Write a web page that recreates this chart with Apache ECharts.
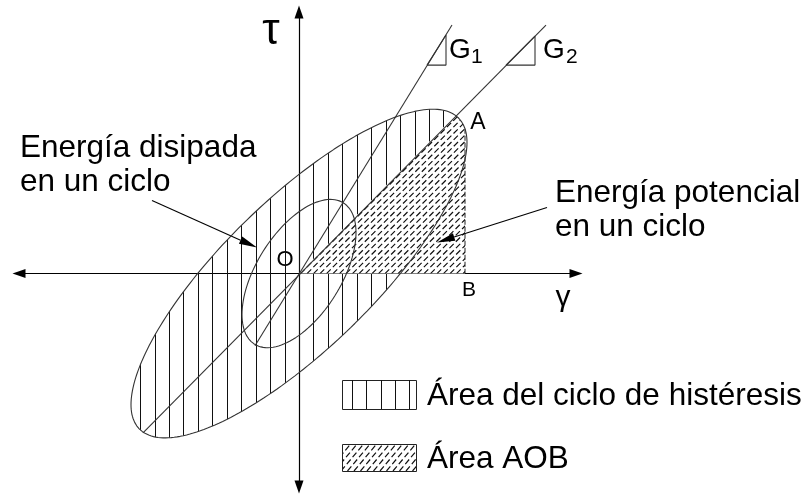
<!DOCTYPE html>
<html>
<head>
<meta charset="utf-8">
<script src="https://cdn.jsdelivr.net/npm/echarts@6/dist/echarts.min.js"></script>
<style>
html, body { margin: 0; padding: 0; background: #fff; }
#main { width: 809px; height: 495px; }
</style>
</head>
<body>
<div id="main"></div>
<script>
let myChart = echarts.init(document.getElementById('main'), null, { renderer: 'canvas' });

// hysteresis loops [outer cycle, inner cycle], in sketch units (gamma, tau)
const gammaAmp = [168, 57];
const tauAmp = [164, 74];
const gammaAtPeakTau = [134, 31.5];

// secant lines G1, G2 and their slope triangles
const g1Ends = [[-44, -72], [153, 248]];
const g2Ends = [[-156, -159], [247, 248]];
const g1Tri = [[128, 208], [147, 208], [147, 238], [128, 208]];
const g2Tri = [[207, 208], [236, 208], [236, 237], [207, 208]];

// point B on the gamma axis, spacing of the vertical hatch
const gammaB = 166;
const hatchStep = 14.44;

// annotation arrows [from, tip]
const arrowDisipada = [[-147, 73], [-42, 26]];
const arrowPotencial = [[248, 66], [138, 31]];

const FONT = '"Liberation Sans", Arial, sans-serif';

function loopPoints(i) {
  const d = Math.acos(gammaAtPeakTau[i] / gammaAmp[i]);
  const pts = [];
  for (let k = 0; k <= 240; k++) {
    const t = k / 240 * 2 * Math.PI;
    pts.push([gammaAmp[i] * Math.cos(t), tauAmp[i] * Math.cos(t - d)]);
  }
  return pts;
}
// upper branch of the outer loop at a given gamma
function upperTau(x) {
  const a = gammaAmp[0], b = tauAmp[0];
  const d = Math.acos(gammaAtPeakTau[0] / a);
  const u = Math.min(1, Math.abs(x / a));
  return b * ((x / a) * Math.cos(d) + Math.sqrt(1 - u * u) * Math.sin(d));
}
const outerLoop = loopPoints(0);
const innerLoop = loopPoints(1);
const g2Slope = (g2Ends[1][1] - g2Ends[0][1]) / (g2Ends[1][0] - g2Ends[0][0]);

// area AOB: under the G2 secant, left of B, under the outer loop
const aobShape = [[0, 0]];
for (let x = 0; x <= gammaB; x += 1) {
  aobShape.push([x, Math.min(x * g2Slope, upperTau(x))]);
}
aobShape.push([gammaB, 0]);

function seg(p, q, style) {
  return { type: 'line', shape: { x1: p[0], y1: p[1], x2: q[0], y2: q[1] }, style: style };
}

function arrow(api, ends) {
  const a = api.coord(ends[0]), b = api.coord(ends[1]);
  const dx = b[0] - a[0], dy = b[1] - a[1];
  const len = Math.sqrt(dx * dx + dy * dy);
  const ux = dx / len, uy = dy / len;
  const base = [b[0] - ux * 18, b[1] - uy * 18];
  return [
    seg(a, base, { stroke: '#000', lineWidth: 1.1 }),
    { type: 'polygon', shape: { points: [b, [base[0] - uy * 4, base[1] + ux * 4], [base[0] + uy * 4, base[1] - ux * 4]] }, style: { fill: '#000' } }
  ];
}

function dashedHatch(x0, x1, y0, step, ang) {
  const out = [];
  for (let x = x0; x <= x1; x += step) {
    out.push(seg([x, y0], [x + 400 * Math.cos(ang), y0 - 400 * Math.sin(ang)],
      { stroke: '#111', lineWidth: 1.2, lineDash: [6, 3] }));
  }
  return out;
}

let option = {
  animation: false,
  backgroundColor: '#fff',
  grid: { left: 19, right: 233, top: 12, bottom: 8 },
  xAxis: {
    type: 'value', min: -280, max: 277,
    axisLine: { onZero: true, symbol: ['triangle', 'triangle'], symbolSize: [9, 13], lineStyle: { color: '#000', width: 1.2 } },
    axisTick: { show: false }, axisLabel: { show: false }, splitLine: { show: false }
  },
  yAxis: {
    type: 'value', min: -213, max: 261,
    axisLine: { onZero: true, symbol: ['triangle', 'triangle'], symbolSize: [9, 13], lineStyle: { color: '#000', width: 1.2 } },
    axisTick: { show: false }, axisLabel: { show: false }, splitLine: { show: false }
  },
  series: [
    {
      name: 'Área del ciclo de histéresis',
      type: 'custom',
      coordinateSystem: 'cartesian2d',
      data: [[0, 0]],
      clip: false,
      silent: true,
      renderItem: function (params, api) {
        const lines = [];
        for (let k = -13; k <= 13; k++) {
          const p = api.coord([k * hatchStep, 0]);
          const x = Math.round(p[0]) + 0.5;
          lines.push(seg([x, 0], [x, 495], { stroke: '#111', lineWidth: 1 }));
        }
        return {
          type: 'group',
          clipPath: { type: 'polygon', shape: { points: outerLoop.map(p => api.coord(p)) } },
          children: lines
        };
      }
    },
    {
      name: 'Área AOB',
      type: 'custom',
      coordinateSystem: 'cartesian2d',
      data: [[0, 0]],
      clip: false,
      silent: true,
      renderItem: function (params, api) {
        const pts = aobShape.map(p => api.coord(p));
        const o = api.coord([0, 0]);
        const a = api.coord([gammaB, upperTau(gammaB)]);
        const b = api.coord([gammaB, 0]);
        return {
          type: 'group',
          children: [
            { type: 'polygon', shape: { points: pts }, style: { fill: '#fff' } },
            {
              type: 'group',
              clipPath: { type: 'polygon', shape: { points: pts } },
              children: dashedHatch(o[0] - 200, o[0] + 200, o[1], 6.5, 45 * Math.PI / 180)
            },
            seg(a, b, { stroke: '#222', lineWidth: 1, lineDash: [5, 2] })
          ]
        };
      }
    },
    {
      name: 'Ciclo', type: 'line', data: outerLoop, showSymbol: false, symbol: 'none',
      lineStyle: { color: '#333', width: 1.1 }, silent: true
    },
    {
      name: 'Ciclo pequeño', type: 'line', data: innerLoop, showSymbol: false, symbol: 'none',
      lineStyle: { color: '#333', width: 1.1 }, silent: true
    },
    {
      name: 'G1', type: 'line', data: g1Ends, showSymbol: false, symbol: 'none',
      lineStyle: { color: '#333', width: 1.1 }, silent: true
    },
    {
      name: 'G2', type: 'line', data: g2Ends, showSymbol: false, symbol: 'none',
      lineStyle: { color: '#333', width: 1.1 }, silent: true
    },
    {
      name: 'G1 pendiente', type: 'line', data: g1Tri, showSymbol: false, symbol: 'none',
      lineStyle: { color: '#333', width: 1.1 }, silent: true
    },
    {
      name: 'G2 pendiente', type: 'line', data: g2Tri, showSymbol: false, symbol: 'none',
      lineStyle: { color: '#333', width: 1.1 }, silent: true
    },
    {
      name: 'Flechas',
      type: 'custom',
      coordinateSystem: 'cartesian2d',
      data: [[0, 0]],
      clip: false,
      silent: true,
      renderItem: function (params, api) {
        return {
          type: 'group',
          children: arrow(api, arrowDisipada).concat(arrow(api, arrowPotencial))
        };
      }
    },
    {
      name: 'Leyenda',
      type: 'custom',
      coordinateSystem: 'cartesian2d',
      data: [[0, 0]],
      clip: false,
      silent: true,
      renderItem: function () {
        const r1 = [342, 380, 74, 29], r2 = [342, 444, 74, 27];
        const kids = [];
        kids.push({ type: 'rect', shape: { x: r1[0] + 0.5, y: r1[1] + 0.5, width: r1[2], height: r1[3] }, style: { fill: '#fff', stroke: '#222', lineWidth: 1 } });
        for (let k = 0; k < 5; k++) {
          const x = Math.round(r1[0] + 10 + k * 14.3) + 0.5;
          kids.push(seg([x, r1[1]], [x, r1[1] + r1[3]], { stroke: '#111', lineWidth: 1 }));
        }
        const rectPts = [[r2[0], r2[1]], [r2[0] + r2[2], r2[1]], [r2[0] + r2[2], r2[1] + r2[3]], [r2[0], r2[1] + r2[3]]];
        kids.push({ type: 'rect', shape: { x: r2[0] + 0.5, y: r2[1] + 0.5, width: r2[2], height: r2[3] }, style: { fill: '#fff', stroke: 'none' } });
        kids.push({
          type: 'group',
          clipPath: { type: 'polygon', shape: { points: rectPts } },
          children: dashedHatch(r2[0] - 40, r2[0] + r2[2], r2[1] + r2[3], 6.5, 50 * Math.PI / 180)
        });
        kids.push({ type: 'rect', shape: { x: r2[0] + 0.5, y: r2[1] + 0.5, width: r2[2], height: r2[3] }, style: { fill: 'none', stroke: '#222', lineWidth: 1 } });
        return { type: 'group', children: kids };
      }
    }
  ],
  graphic: [
    ['Energía disipada', 20, 148, 31.5, 'left'],
    ['en un ciclo', 20, 182, 31.5, 'left'],
    ['Energía potencial', 555, 193, 31.5, 'left'],
    ['en un ciclo', 555, 227, 31.5, 'left'],
    ['Área del ciclo de histéresis', 427, 396, 31.5, 'left'],
    ['Área AOB', 427, 459, 31.5, 'left'],
    ['O', 285, 260, 22, 'center'],
    ['A', 478, 123, 23, 'center'],
    ['B', 469, 290, 21, 'center'],
    ['G', 449, 50, 28, 'left'],
    ['1', 471, 57, 21, 'left'],
    ['G', 543, 50, 28, 'left'],
    ['2', 566, 57, 21, 'left'],
    ['τ', 271, 32, 44, 'center'],
    ['γ', 563, 298, 30, 'center']
  ].map(t => ({
    type: 'text',
    x: t[1],
    y: t[2],
    silent: true,
    style: { text: t[0], font: t[3] + 'px ' + FONT, fill: '#000', align: t[4], verticalAlign: 'middle' }
  }))
};

myChart.setOption(option);
</script>
</body>
</html>
